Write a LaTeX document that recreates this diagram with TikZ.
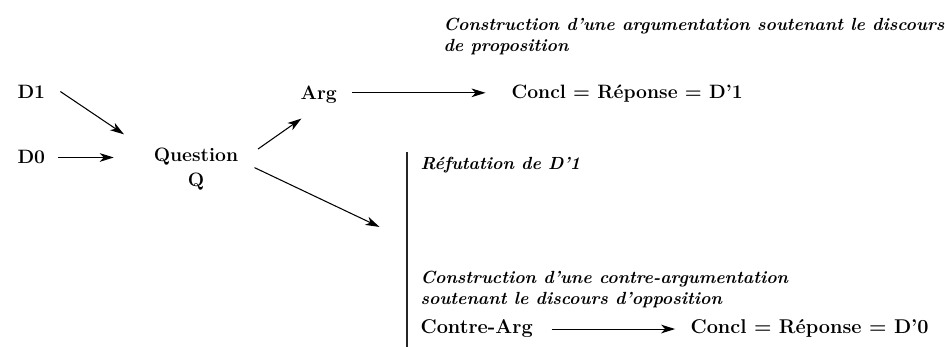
\documentclass[tikz,border=0pt]{standalone}
\usepackage{tikz}
\usetikzlibrary{positioning}
\usetikzlibrary{arrows.meta}
\tikzset{
	term/.style={inner sep=2pt, font=\fontsize{16.5}{21}\selectfont\bfseries},
	remark/.style={inner sep=2pt, align=left, font=\fontsize{15}{18}\selectfont\bfseries\itshape},
	% the long vertical stroke
	bar/.style={line width=1.4pt, black!85},
}
\tikzset{
	arr/.style={line width=0.9pt, -{Stealth[length=4.2mm, width=2.6mm, inset=1.2mm]}}
}

\begin{document}
\begin{tikzpicture}[x=0.03cm, y=-0.03cm]
		
		\useasboundingbox (0,0) rectangle (945,347);
		
		\node (D1) [term, anchor=base west] at (15,99) {D1};
		\node (D0) [term, anchor=base west] at (15,164) {D0};
		\node (question) [term, align=center] at (196,169) {Question\\Q};
		
		\node (arg) [term, anchor=base west] at (298,100) {Arg};
		\node (concl1) [term, anchor=base west] at (509,99) {Concl = Réponse = D’1};
		% base of a two-line node is its last line
		\node (propo) [remark, anchor=base west] at (441,52) {Construction d’une argumentation soutenant le discours\\de proposition};
		
		\coordinate (bartop) at (407,152);
		\coordinate (barbot) at (407,347);
		\coordinate (barmid) at (407,240);
		
		\node (refut) [remark, anchor=base west] at (418,170) {Réfutation de D’1};
		\node (oppo) [remark, anchor=base west] at (418,305) {Construction d’une contre-argumentation\\soutenant le discours d’opposition};
		\node (contre) [term, anchor=base west, font=\fontsize{17}{21}\selectfont\bfseries] at (418,334) {Contre-Arg};
		\node (concl0) [term, anchor=base west, font=\fontsize{17}{21}\selectfont\bfseries] at (688,334) {Concl = Réponse = D’0};
		
		\draw[bar] (bartop) -- (barbot);
		
		\begin{scope}[arr]
			\draw[shorten <=13pt, shorten >=28pt] ([yshift=8pt]D1.east) -- (question.160);
			\draw[shorten <=9pt, shorten >=32pt] (D0.east) -- (D0.east -| question.west);
			\draw[shorten <=18pt, shorten >=18pt] (question.10) -- (arg.south);
			\draw[shorten <=13pt, shorten >=26pt] (question.10) -- (barmid);
			\draw[shorten <=11pt, shorten >=20pt] ([yshift=2pt]arg.east) -- ([yshift=2pt]arg.east -| concl1.west);
			\draw[shorten <=14pt, shorten >=11pt] (contre.east) -- (contre.east -| concl0.west);
		\end{scope}
	\end{tikzpicture}
\end{document}
